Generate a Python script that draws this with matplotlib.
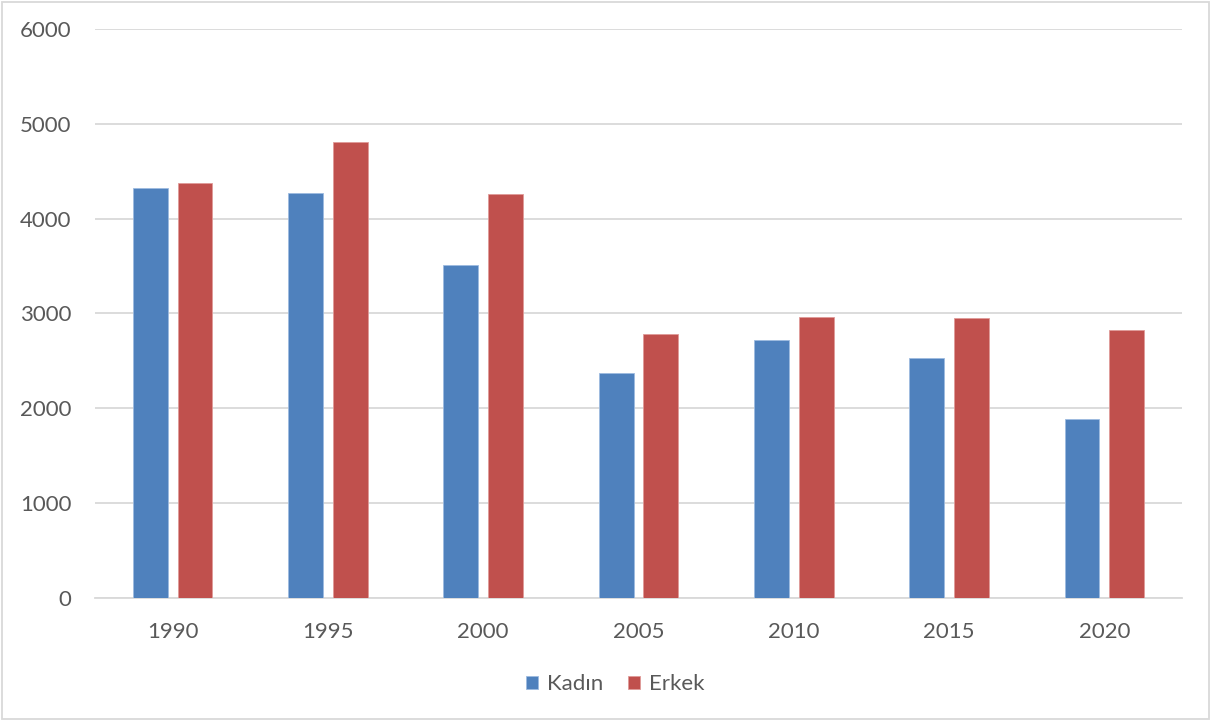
import matplotlib
matplotlib.use("Agg")
import matplotlib.pyplot as plt
import numpy as np
from matplotlib.patches import Rectangle

years = ["1990", "1995", "2000", "2005", "2010", "2015", "2020"]
kadin = [4318, 4273, 3511, 2368, 2723, 2530, 1890]
erkek = [4375, 4811, 4263, 2787, 2958, 2955, 2825]

plt.rcParams['font.family'] = ['Lato', 'DejaVu Sans']
txt = '#595959'

fig = plt.figure(figsize=(12.11, 7.21), dpi=100)
ax = fig.add_axes([0.0785, 0.1706, 0.8975, 0.7892])

x = np.arange(len(years))
w = 0.225
off = 0.1436
ax.bar(x - off, kadin, w, color='#4F81BD', edgecolor='#9dbbe0', linewidth=0.6, label='Kadın', zorder=3)
ax.bar(x + off, erkek, w, color='#C0504D', edgecolor='#e09a98', linewidth=0.6, label='Erkek', zorder=3)

ax.set_xlim(-0.5, len(years) - 0.5)
ax.set_ylim(0, 6000)
ax.set_yticks(range(0, 6001, 1000))
ax.set_xticks(x)
ax.set_xticklabels(years)
ax.yaxis.grid(True, color='#d9d9d9', linewidth=1.3, zorder=0)
ax.set_axisbelow(True)
for s in ['top', 'right', 'left']:
    ax.spines[s].set_visible(False)
ax.spines['bottom'].set_color('#d9d9d9')
ax.spines['bottom'].set_linewidth(1.3)
ax.tick_params(axis='both', length=0, labelsize=16, colors=txt)
ax.tick_params(axis='y', pad=17)
ax.tick_params(axis='x', pad=17)

leg = fig.legend(loc='center', bbox_to_anchor=(0.508, 0.051), ncol=2, frameon=False,
                 fontsize=16, handlelength=0.55, handleheight=0.55, handletextpad=0.4,
                 columnspacing=1.1)
for t in leg.get_texts():
    t.set_color(txt)

fig.patches.append(Rectangle((0.0017, 0.003), 0.9966, 0.994, transform=fig.transFigure,
                             fill=False, edgecolor='#d9d9d9', linewidth=1.3))

fig.savefig('out.png', dpi=100, facecolor='white')
